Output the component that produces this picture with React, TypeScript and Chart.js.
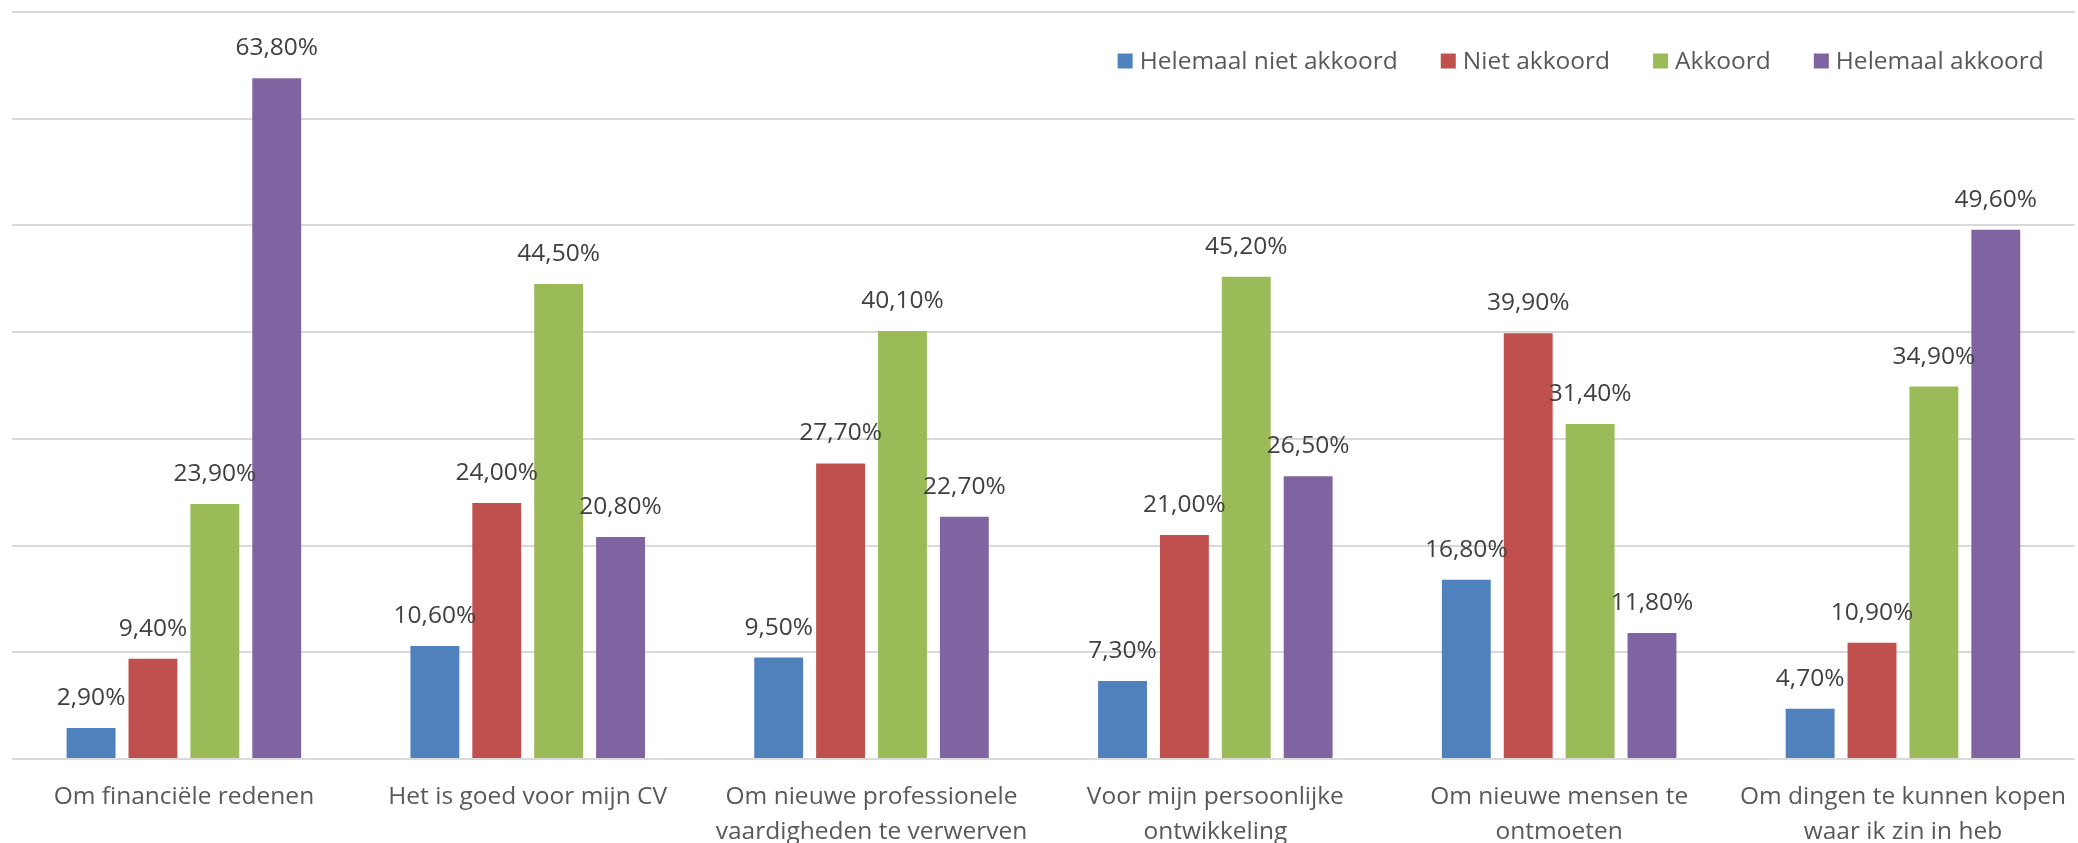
import React, { useEffect, useRef } from "react";
import { Chart, registerables } from "chart.js";

Chart.register(...registerables);

const categories: string[][] = [
  ["Om financiële redenen"],
  ["Het is goed voor mijn CV"],
  ["Om nieuwe professionele", "vaardigheden te verwerven"],
  ["Voor mijn persoonlijke", "ontwikkeling"],
  ["Om nieuwe mensen te", "ontmoeten"],
  ["Om dingen te kunnen kopen", "waar ik zin in heb"],
];

const seriesNames = ["Helemaal niet akkoord", "Niet akkoord", "Akkoord", "Helemaal akkoord"];
const helemaalNietAkkoord = [2.9, 10.6, 9.5, 7.3, 16.8, 4.7];
const nietAkkoord = [9.4, 24.0, 27.7, 21.0, 39.9, 10.9];
const akkoord = [23.9, 44.5, 40.1, 45.2, 31.4, 34.9];
const helemaalAkkoord = [63.8, 20.8, 22.7, 26.5, 11.8, 49.6];
const seriesColors = ["#4F81BD", "#C0504D", "#9BBB59", "#8064A2"];

const FONT = "'Open Sans', 'Noto Sans', sans-serif";
const FONT_SIZE = 24.5;

const fmt = (v: number) => v.toFixed(2).replace(".", ",") + "%";

const dataLabelPlugin = {
  id: "dataLabels",
  afterDatasetsDraw(chart: any) {
    const ctx = chart.ctx;
    ctx.save();
    ctx.font = `${FONT_SIZE}px ${FONT}`;
    ctx.fillStyle = "#404040";
    ctx.textAlign = "center";
    ctx.textBaseline = "middle";
    chart.data.datasets.forEach((ds: any, i: number) => {
      const meta = chart.getDatasetMeta(i);
      meta.data.forEach((el: any, j: number) => {
        ctx.fillText(fmt(ds.data[j]), el.x, el.y - 30);
      });
    });
    ctx.restore();
  },
};

const legendPlugin = {
  id: "topLegend",
  afterDraw(chart: any) {
    const ctx = chart.ctx;
    ctx.save();
    ctx.font = `${FONT_SIZE}px ${FONT}`;
    ctx.textBaseline = "middle";
    ctx.textAlign = "left";
    const box = 15;
    const boxGap = 7;
    const itemGap = 43;
    const widths = seriesNames.map((n) => ctx.measureText(n).width);
    const total = widths.reduce((a, b) => a + b, 0) + seriesNames.length * (box + boxGap) + (seriesNames.length - 1) * itemGap;
    const rightEnd = chart.chartArea.right - 31;
    let x = rightEnd - total;
    const y = chart.chartArea.top + 49;
    seriesNames.forEach((n, i) => {
      ctx.fillStyle = seriesColors[i];
      ctx.fillRect(x, y - box / 2, box, box);
      x += box + boxGap;
      ctx.fillStyle = "#595959";
      ctx.fillText(n, x, y + 1);
      x += widths[i] + itemGap;
    });
    ctx.restore();
  },
};

export default function App() {
  const ref = useRef<HTMLCanvasElement>(null);
  useEffect(() => {
    if (!ref.current) return;
    const allSeries = [helemaalNietAkkoord, nietAkkoord, akkoord, helemaalAkkoord];
    const chart = new Chart(ref.current, {
      type: "bar",
      data: {
        labels: categories,
        datasets: seriesNames.map((name, i) => ({
          label: name,
          data: allSeries[i],
          backgroundColor: seriesColors[i],
          borderWidth: 0,
          categoryPercentage: 0.72,
          barPercentage: 0.79,
        })),
      },
      options: {
        responsive: false,
        animation: false,
        devicePixelRatio: 1,
        layout: { padding: { left: 12, top: 12, right: 0, bottom: 0 } },
        plugins: {
          legend: { display: false },
          tooltip: { enabled: false },
        },
        scales: {
          x: {
            grid: { display: false },
            border: { display: false },
            ticks: {
              color: "#595959",
              font: { family: FONT, size: FONT_SIZE, lineHeight: 1.44 },
              padding: 12,
              maxRotation: 0,
              autoSkip: false,
            },
            afterFit: (scale: any) => {
              scale.height = 84;
            },
          },
          y: {
            min: 0,
            max: 70,
            ticks: { display: false, stepSize: 10 },
            grid: { color: "#D9D9D9", lineWidth: 2, drawTicks: false },
            border: { display: false },
            afterFit: (scale: any) => {
              scale.width = 0;
            },
          },
        },
      },
      plugins: [dataLabelPlugin, legendPlugin],
    });
    return () => chart.destroy();
  }, []);
  return (
    <div style={{ position: "absolute", left: 0, top: 0, width: 2078, height: 843, background: "#fff" }}>
      <canvas ref={ref} width={2078} height={843} />
    </div>
  );
}
